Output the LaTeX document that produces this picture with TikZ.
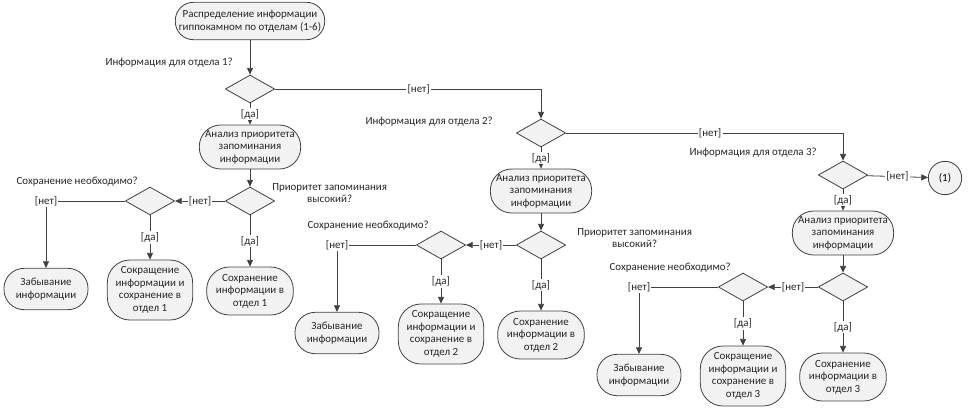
\documentclass[tikz,border=0pt]{standalone}
\usepackage{fontspec}
\setmainfont{Carlito}
\usetikzlibrary{arrows.meta,shapes.geometric}

\definecolor{linegray}{HTML}{404040}
\definecolor{boxgray}{HTML}{F2F2F2}
\newcommand{\dfont}{\fontsize{8.2}{9.4}\selectfont}

\tikzset{
  act/.style={draw=linegray, fill=boxgray, line width=0.6pt, rounded corners=15pt,
    align=center, inner sep=2pt, font=\dfont, text=black!85},
  dec/.style={diamond, draw=linegray, fill=boxgray, line width=0.6pt,
    minimum width=37pt, minimum height=21pt, inner sep=0pt},
  txt/.style={align=center, inner sep=0pt, font=\dfont, text=black!85},
  lbl/.style={fill=white, inner sep=1pt, font=\dfont, text=black!85},
  arr/.style={draw=linegray, line width=0.6pt, -{Triangle[length=5pt,width=4.5pt]}}
}

\begin{document}
\begin{tikzpicture}[x=0.75pt, y=-0.75pt]
  \useasboundingbox (0,0) rectangle (977,412);

  \node[act, minimum width=112pt, minimum height=28pt, rounded corners=13.5pt] (start) at (250,21)
    {Распределение информации\\гиппокамном по отделам (1-6)};
  \node[circle, draw=linegray, fill=boxgray, line width=0.6pt, minimum size=25pt,
    inner sep=0pt, font=\dfont] (c1) at (945,178) {(1)};

  \foreach \i/\x/\y in {1/250/89, 2/541/133, 3/843/175} {
    \node[dec] (d\i) at (\x,\y) {};
    \node[act, minimum width=76pt, minimum height=33pt, rounded corners=16pt] (a\i) at (\x,\y+58)
      {Анализ приоритета\\запоминания\\информации};
    \node[dec] (p\i) at (\x,\y+112) {};
    \node[dec] (s\i) at (\x-100,\y+112) {};
    \node[act, minimum width=63pt, minimum height=31pt] (f\i) at (\x-204,\y+200)
      {Забывание\\информации};
    \node[act, minimum width=64pt, minimum height=45pt, rounded corners=17pt] (r\i) at (\x-100,\y+201)
      {Сокращение\\информации и\\сохранение в\\отдел \i};
    \node[act, minimum width=65pt, minimum height=36pt, rounded corners=17pt] (k\i) at (\x,\y+202)
      {Сохранение\\информации в\\отдел \i};
    \node[txt, anchor=east] (sq\i) at (\x-112,\y+93) {Сохранение необходимо?};

    \draw[arr] (d\i) -- node[lbl] {[да]} (a\i);
    \draw[arr] (a\i) -- (p\i);
    \draw[arr] (p\i) -- node[lbl] {[нет]} (s\i);
    \draw[arr] (s\i.west) -| node[lbl] {[нет]} (f\i.north);
    \draw[arr] (s\i) -- node[lbl] {[да]} (r\i);
    \draw[arr] (p\i) -- node[lbl] {[да]} (k\i);
  }

  % questions
  \node[txt, anchor=east] (q1) at (233,63) {Информация для отдела 1?};
  \node[txt, anchor=east] (q2) at (493,122) {Информация для отдела 2?};
  \node[txt, anchor=east] (q3) at (817,153) {Информация для отдела 3?};
  \node[txt, anchor=west] (h1) at (272,193) {Приоритет запоминания\\высокий?};
  \node[txt, anchor=west] (h2) at (577,238) {Приоритет запоминания\\высокий?};

  \draw[arr] (start) -- (d1);
  \draw[arr] (d1.east) -| node[lbl, pos=0.27] {[нет]} (d2.north);
  \draw[arr] (d2.east) -| node[lbl, pos=0.26] {[нет]} (d3.north);
  \draw[arr] (d3) -- node[lbl] {[нет]} (c1);
\end{tikzpicture}
\end{document}
